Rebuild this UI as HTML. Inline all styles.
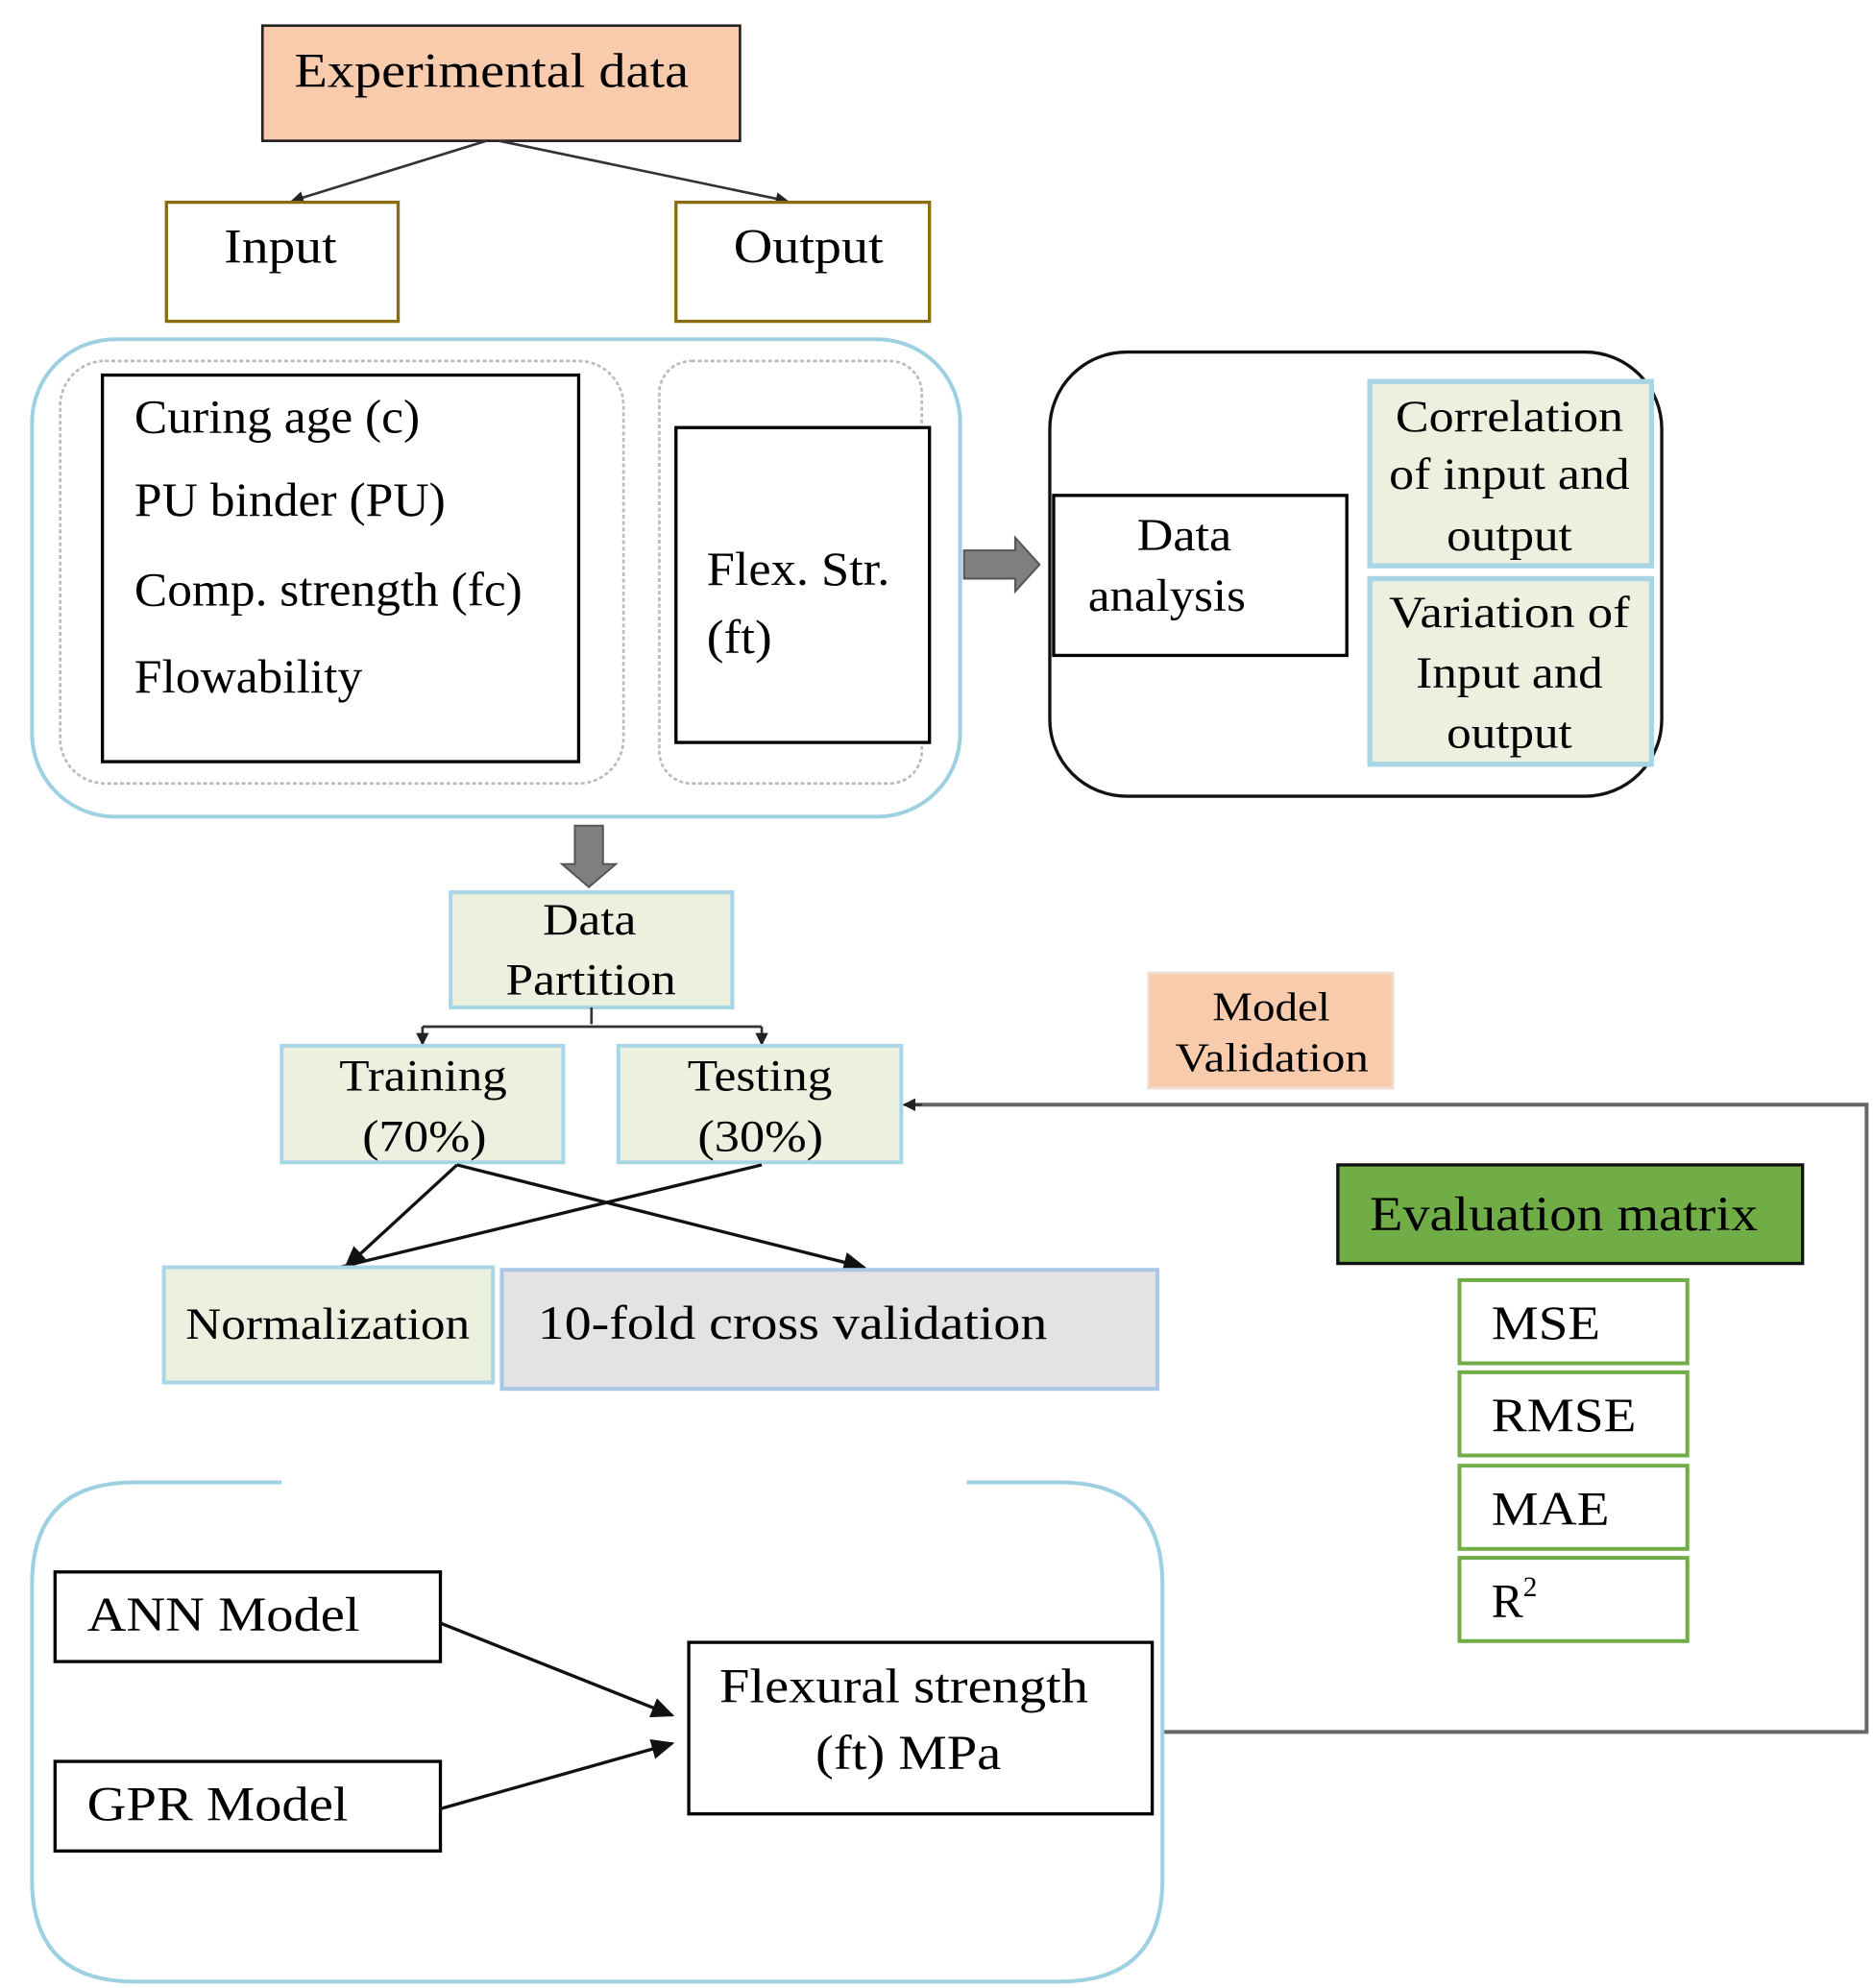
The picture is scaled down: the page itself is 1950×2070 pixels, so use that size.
<!DOCTYPE html>
<html><head><meta charset="utf-8"><style>html,body{margin:0;padding:0;background:#fff}svg{display:block}</style></head>
<body>
<svg width="1950" height="2070" viewBox="0 0 1463 1553" xmlns="http://www.w3.org/2000/svg" font-family="Liberation Serif, serif">
<defs>
<marker id="a" markerWidth="10" markerHeight="10" refX="9" refY="5" orient="auto" markerUnits="userSpaceOnUse"><path d="M0,0 L10,5 L0,10 z" fill="#222"/></marker>
<marker id="b" markerWidth="18" markerHeight="16" refX="16" refY="8" orient="auto" markerUnits="userSpaceOnUse"><path d="M0,0 L18,8 L0,16 z" fill="#111"/></marker>
</defs>
<rect width="1463" height="1553" fill="#fff"/>
<g lengthAdjust="spacingAndGlyphs">
<!-- top -->
<rect x="205" y="20" width="373" height="90" fill="#f8cbad" stroke="#222" stroke-width="2"/>
<text x="230" y="68" font-size="38" textLength="308" lengthAdjust="spacingAndGlyphs">Experimental data</text>
<line x1="380" y1="110" x2="228" y2="157" stroke="#333" stroke-width="2" marker-end="url(#a)"/>
<line x1="390" y1="110" x2="615" y2="157" stroke="#333" stroke-width="2" marker-end="url(#a)"/>
<rect x="130" y="158" width="181" height="93" fill="#fff" stroke="#8b6b10" stroke-width="2.5"/>
<text x="175" y="205" font-size="38" textLength="88" lengthAdjust="spacingAndGlyphs">Input</text>
<rect x="528" y="158" width="198" height="93" fill="#fff" stroke="#8b6b10" stroke-width="2.5"/>
<text x="573" y="205" font-size="38" textLength="117" lengthAdjust="spacingAndGlyphs">Output</text>
<!-- input group -->
<rect x="25" y="265" width="725" height="373" rx="65" fill="none" stroke="#9dd0e0" stroke-width="3"/>
<rect x="47" y="282" width="440" height="330" rx="35" fill="none" stroke="#bbb" stroke-width="2" stroke-dasharray="3,2"/>
<rect x="515" y="282" width="205" height="330" rx="25" fill="none" stroke="#bbb" stroke-width="2" stroke-dasharray="3,2"/>
<rect x="80" y="293" width="372" height="302" fill="#fff" stroke="#000" stroke-width="2.5"/>
<g font-size="37">
<text x="105" y="338" textLength="223" lengthAdjust="spacingAndGlyphs">Curing age (c)</text>
<text x="105" y="403" textLength="243" lengthAdjust="spacingAndGlyphs">PU binder (PU)</text>
<text x="105" y="473" textLength="303" lengthAdjust="spacingAndGlyphs">Comp. strength (fc)</text>
<text x="105" y="541" textLength="178" lengthAdjust="spacingAndGlyphs">Flowability</text>
</g>
<rect x="528" y="334" width="198" height="246" fill="#fff" stroke="#000" stroke-width="2.5"/>
<text x="552" y="457" font-size="37" textLength="143" lengthAdjust="spacingAndGlyphs">Flex. Str.</text>
<text x="552" y="510" font-size="37" textLength="51" lengthAdjust="spacingAndGlyphs">(ft)</text>
<!-- block arrow right -->
<path d="M753,430 L793,430 L793,420 L812,441 L793,462 L793,452 L753,452 z" fill="#7f7f7f" stroke="#555" stroke-width="1.5"/>
<!-- data analysis group -->
<rect x="820" y="275" width="478" height="347" rx="60" fill="none" stroke="#111" stroke-width="2.5"/>
<rect x="823" y="387" width="229" height="125" fill="#fff" stroke="#000" stroke-width="2.5"/>
<text x="888" y="430" font-size="36" textLength="74" lengthAdjust="spacingAndGlyphs">Data</text>
<text x="850" y="477" font-size="36" textLength="123" lengthAdjust="spacingAndGlyphs">analysis</text>
<rect x="1070" y="298" width="220" height="144" fill="#ebf1de" stroke="#a9d6e5" stroke-width="4"/>
<g font-size="35">
<text x="1090" y="337" textLength="178" lengthAdjust="spacingAndGlyphs">Correlation</text>
<text x="1085" y="382" textLength="188" lengthAdjust="spacingAndGlyphs">of input and</text>
<text x="1130" y="430" textLength="98" lengthAdjust="spacingAndGlyphs">output</text>
</g>
<rect x="1070" y="452" width="220" height="145" fill="#ebf1de" stroke="#a9d6e5" stroke-width="4"/>
<g font-size="35">
<text x="1085" y="490" textLength="188" lengthAdjust="spacingAndGlyphs">Variation of</text>
<text x="1106" y="537" textLength="146" lengthAdjust="spacingAndGlyphs">Input and</text>
<text x="1130" y="584" textLength="98" lengthAdjust="spacingAndGlyphs">output</text>
</g>
<!-- down block arrow -->
<path d="M449,645 L471,645 L471,675 L481,675 L460,693 L439,675 L449,675 z" fill="#7f7f7f" stroke="#555" stroke-width="1.5"/>
<rect x="352" y="697" width="220" height="90" fill="#ebf1de" stroke="#a9d6e5" stroke-width="3"/>
<text x="424" y="730" font-size="35" textLength="73" lengthAdjust="spacingAndGlyphs">Data</text>
<text x="395" y="777" font-size="35" textLength="133" lengthAdjust="spacingAndGlyphs">Partition</text>
<path d="M462,787 L462,800 M330,802 L595,802" stroke="#333" stroke-width="2"/>
<line x1="330" y1="802" x2="330" y2="816" stroke="#333" stroke-width="2" marker-end="url(#a)"/>
<line x1="595" y1="802" x2="595" y2="816" stroke="#333" stroke-width="2" marker-end="url(#a)"/>
<rect x="220" y="817" width="220" height="91" fill="#ebf1de" stroke="#a9d6e5" stroke-width="3"/>
<text x="265" y="852" font-size="35" textLength="131" lengthAdjust="spacingAndGlyphs">Training</text>
<text x="283" y="899" font-size="35" textLength="97" lengthAdjust="spacingAndGlyphs">(70%)</text>
<rect x="483" y="817" width="221" height="91" fill="#ebf1de" stroke="#a9d6e5" stroke-width="3"/>
<text x="537" y="852" font-size="35" textLength="113" lengthAdjust="spacingAndGlyphs">Testing</text>
<text x="545" y="899" font-size="35" textLength="98" lengthAdjust="spacingAndGlyphs">(30%)</text>
<line x1="357" y1="910" x2="270" y2="990" stroke="#111" stroke-width="2.5" marker-end="url(#b)"/>
<line x1="357" y1="910" x2="675" y2="990" stroke="#111" stroke-width="2.5" marker-end="url(#b)"/>
<line x1="595" y1="910" x2="265" y2="990" stroke="#111" stroke-width="2.5"/>
<rect x="128" y="990" width="257" height="90" fill="#ebf1de" stroke="#a9d6e5" stroke-width="3"/>
<text x="145" y="1046" font-size="35" textLength="222" lengthAdjust="spacingAndGlyphs">Normalization</text>
<rect x="392" y="992" width="512" height="93" fill="#e3e3e3" stroke="#a9c8e5" stroke-width="3"/>
<text x="420" y="1046" font-size="37" textLength="398" lengthAdjust="spacingAndGlyphs">10-fold cross validation</text>
<!-- model validation -->
<rect x="897" y="760" width="191" height="90" fill="#f8cbad" stroke="#f0dcd0" stroke-width="2"/>
<text x="947" y="797" font-size="32" textLength="92" lengthAdjust="spacingAndGlyphs">Model</text>
<text x="918" y="837" font-size="32" textLength="151" lengthAdjust="spacingAndGlyphs">Validation</text>
<path d="M908,1353 L1458,1353 L1458,863 L710,863" fill="none" stroke="#666" stroke-width="3"/>
<line x1="720" y1="863" x2="706" y2="863" stroke="#333" stroke-width="2" marker-end="url(#a)"/>
<!-- evaluation -->
<rect x="1045" y="910" width="363" height="77" fill="#70ad47" stroke="#111" stroke-width="2.5"/>
<text x="1070" y="961" font-size="38" textLength="303" lengthAdjust="spacingAndGlyphs">Evaluation matrix</text>
<g fill="#fff" stroke="#70ad47" stroke-width="3">
<rect x="1140" y="1000" width="178" height="65"/>
<rect x="1140" y="1072" width="178" height="65"/>
<rect x="1140" y="1145" width="178" height="65"/>
<rect x="1140" y="1217" width="178" height="65"/>
</g>
<g font-size="37">
<text x="1165" y="1046" textLength="85" lengthAdjust="spacingAndGlyphs">MSE</text>
<text x="1165" y="1118" textLength="113" lengthAdjust="spacingAndGlyphs">RMSE</text>
<text x="1165" y="1191" textLength="92" lengthAdjust="spacingAndGlyphs">MAE</text>
<text x="1165" y="1263">R<tspan font-size="22" dy="-16">2</tspan></text>
</g>
<!-- bottom group -->
<path d="M220,1158 L105,1158 Q25,1158 25,1238 L25,1468 Q25,1548 105,1548 L828,1548 Q908,1548 908,1468 L908,1238 Q908,1158 828,1158 L755,1158" fill="none" stroke="#9dd0e0" stroke-width="3"/>
<rect x="43" y="1228" width="301" height="70" fill="#fff" stroke="#000" stroke-width="2.5"/>
<text x="68" y="1274" font-size="38" textLength="213" lengthAdjust="spacingAndGlyphs">ANN Model</text>
<rect x="43" y="1376" width="301" height="70" fill="#fff" stroke="#000" stroke-width="2.5"/>
<text x="68" y="1422" font-size="38" textLength="204" lengthAdjust="spacingAndGlyphs">GPR Model</text>
<line x1="344" y1="1268" x2="525" y2="1340" stroke="#111" stroke-width="2.5" marker-end="url(#b)"/>
<line x1="344" y1="1413" x2="525" y2="1362" stroke="#111" stroke-width="2.5" marker-end="url(#b)"/>
<rect x="538" y="1283" width="362" height="134" fill="#fff" stroke="#000" stroke-width="2.5"/>
<text x="562" y="1330" font-size="38" textLength="288" lengthAdjust="spacingAndGlyphs">Flexural strength</text>
<text x="637" y="1382" font-size="38" textLength="145" lengthAdjust="spacingAndGlyphs">(ft) MPa</text>
</g>
</svg>
</body></html>
